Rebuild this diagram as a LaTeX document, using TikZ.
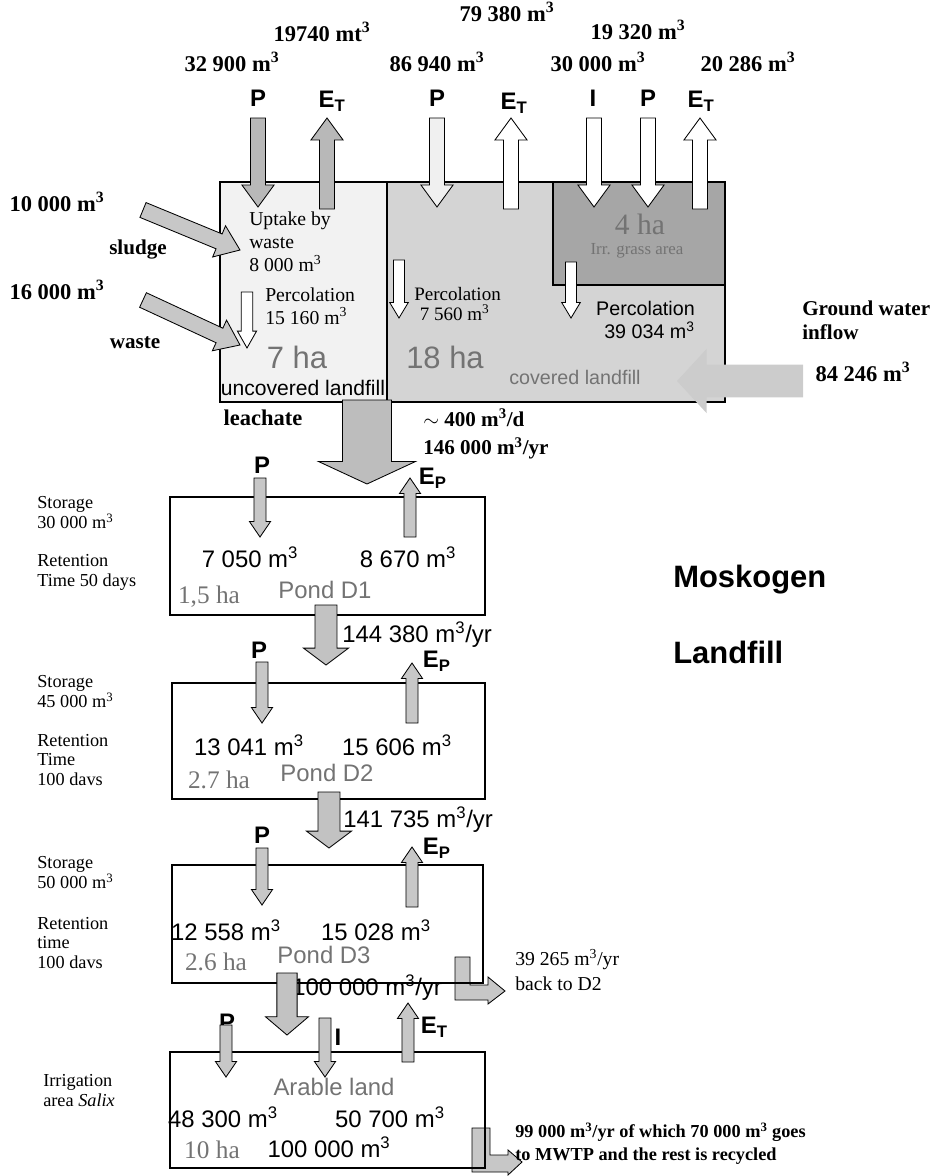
\documentclass[tikz,border=0pt]{standalone}
\usepackage{fontspec}
\setmainfont{Liberation Serif}
\setsansfont{Liberation Sans}
\usetikzlibrary{calc}

% block arrow: [style]{tail}{tip}{half shaft}{half head}{head length} (pt)
\newcommand{\fatarrow}[6][fill=white]{%
  \filldraw[line width=0.6pt,#1]
    let \p1=(#2), \p2=(#3),
        \n1={atan2(\y2-\y1,\x2-\x1)},
        \n2={veclen(\x2-\x1,\y2-\y1)-#6} in
    ($(\p1)+(\n1+90:#4pt)$) -- ($(\p1)+(\n1:\n2)+(\n1+90:#4pt)$)
    -- ($(\p1)+(\n1:\n2)+(\n1+90:#5pt)$) -- (\p2)
    -- ($(\p1)+(\n1:\n2)+(\n1-90:#5pt)$)
    -- ($(\p1)+(\n1:\n2)+(\n1-90:#4pt)$)
    -- ($(\p1)+(\n1-90:#4pt)$) -- cycle;}

\tikzset{
  topnum/.style={font=\bfseries\fontsize{16}{18}\selectfont},
  flux/.style={font=\sffamily\bfseries\fontsize{17}{19}\selectfont},
  qty/.style={font=\sffamily\fontsize{17}{19}\selectfont},
  faint/.style={text=black!55},
  note/.style={font=\fontsize{13}{14.2}\selectfont, align=left, anchor=west, inner sep=0pt},
  small/.style={font=\fontsize{14}{16.5}\selectfont, align=left, anchor=west, inner sep=0pt},
  boxline/.style={line width=1pt}
}

\begin{document}
\begin{tikzpicture}[x=0.025cm, y=-0.025cm]
\useasboundingbox (0,0) rectangle (940,1176);

% landfill areas
\filldraw[boxline, fill=black!5] (220,182) rectangle (387,402);
\filldraw[boxline, fill=black!17] (387,182) rectangle (725,402);
\filldraw[boxline, fill=black!35] (553,182) rectangle (725,285);

% top fluxes
\node[topnum] (q32900) at (232,62) {32 900 m\textsuperscript{3}};
\node[topnum] (q19740) at (322,32) {19740 mt\textsuperscript{3}};
\node[topnum] (q86940) at (437,62) {86 940 m\textsuperscript{3}};
\node[topnum] (q79380) at (507,12) {79 380 m\textsuperscript{3}};
\node[topnum] (q19320) at (638,30) {19 320 m\textsuperscript{3}};
\node[topnum] (q30000) at (598,62) {30 000 m\textsuperscript{3}};
\node[topnum] (q20286) at (748,62) {20 286 m\textsuperscript{3}};

\node[flux] (lPa) at (258,98) {P};
\node[flux] (lEa) at (332,101) {E\textsubscript{T}};
\node[flux] (lPb) at (437,98) {P};
\node[flux] (lEb) at (514,103) {E\textsubscript{T}};
\node[flux] (lIc) at (593,98) {I};
\node[flux] (lPc) at (648,98) {P};
\node[flux] (lEc) at (701,101) {E\textsubscript{T}};

\coordinate (Pa0) at (258,118); \coordinate (Pa1) at (258,207);
\coordinate (Ea0) at (327,209); \coordinate (Ea1) at (327,118);
\coordinate (Pb0) at (437,118); \coordinate (Pb1) at (437,207);
\coordinate (Eb0) at (511,209); \coordinate (Eb1) at (511,118);
\coordinate (Ic0) at (594,118); \coordinate (Ic1) at (594,207);
\coordinate (Pc0) at (648,118); \coordinate (Pc1) at (648,207);
\coordinate (Ec0) at (700,209); \coordinate (Ec1) at (700,118);
\fatarrow[fill=black!28]{Pa0}{Pa1}{5.3}{11.4}{15.6}
\fatarrow[fill=black!28]{Ea0}{Ea1}{5.3}{11.4}{15.6}
\fatarrow[fill=black!6]{Pb0}{Pb1}{5.3}{11.4}{15.6}
\fatarrow{Eb0}{Eb1}{5.3}{11.4}{15.6}
\fatarrow{Ic0}{Ic1}{5.3}{11.4}{15.6}
\fatarrow{Pc0}{Pc1}{5.3}{11.4}{15.6}
\fatarrow{Ec0}{Ec1}{5.3}{11.4}{15.6}

% sludge and waste inputs
\node[topnum] (q10000) at (57,202) {10 000 m\textsuperscript{3}};
\node[topnum] (q16000) at (57,290) {16 000 m\textsuperscript{3}};
\node[font=\bfseries\fontsize{15}{17}\selectfont] (sludge) at (138,250) {sludge};
\node[font=\bfseries\fontsize{15}{17}\selectfont] (waste) at (135,343) {waste};
\coordinate (sl0) at (143,210); \coordinate (sl1) at (240,250);
\coordinate (wa0) at (143,300); \coordinate (wa1) at (240,345);
\fatarrow[fill=black!22]{sl0}{sl1}{5.7}{12}{16}
\fatarrow[fill=black!22]{wa0}{wa1}{5.7}{12}{16}

% uncovered landfill
\node[small] (uptake) at (249,242) {Uptake by\\waste\\8 000 m\textsuperscript{3}};
\node[small] (percA) at (265,306) {Percolation\\15 160 m\textsuperscript{3}};
\coordinate (pa0) at (247,292); \coordinate (pa1) at (247,348);
\fatarrow{pa0}{pa1}{4.1}{6.8}{12}
\node[qty, faint, font=\sffamily\fontsize{22}{24}\selectfont] (ha7) at (297,357) {7 ha};
\node[font=\sffamily\fontsize{15}{17}\selectfont] (uncov) at (303,388) {uncovered landfill};

% covered landfill
\coordinate (pb0) at (399,260); \coordinate (pb1) at (399,318);
\fatarrow{pb0}{pb1}{3.9}{6.6}{11}
\node[small, font=\fontsize{13.5}{14.5}\selectfont] (percB) at (414,304) {Percolation\\\hspace*{4pt}7 560 m\textsuperscript{3}};
\node[faint, font=\sffamily\fontsize{22}{24}\selectfont] (ha18) at (445,357) {18 ha};
\node[faint, font=\fontsize{21}{23}\selectfont] (ha4) at (640,224) {4 ha};
\node[faint, font=\fontsize{12}{14}\selectfont] (grass) at (637,251) {Irr. grass area};
\coordinate (pc0) at (571,262); \coordinate (pc1) at (571,318);
\fatarrow{pc0}{pc1}{3.9}{6.6}{11}
\node[font=\sffamily\fontsize{14}{16.5}\selectfont, align=right, anchor=east, inner sep=0pt] (percC) at (695,320) {Percolation\\39 034 m\textsuperscript{3}};
\node[faint, font=\sffamily\fontsize{14}{16}\selectfont] (cov) at (575,377) {covered landfill};

% ground water
\coordinate (gw0) at (803,381); \coordinate (gw1) at (677,381);
\fatarrow[fill=black!20, draw=none]{gw0}{gw1}{11.7}{22.8}{21}
\node[font=\bfseries\fontsize{15}{17}\selectfont, align=left, anchor=west, inner sep=0pt] (gwtxt) at (802,320) {Ground water\\inflow};
\node[topnum] (q84246) at (863,372) {84 246 m\textsuperscript{3}};

% leachate
\node[font=\bfseries\fontsize{16}{18}\selectfont] (leach) at (263,418) {leachate};
\node[font=\bfseries\fontsize{15}{20}\selectfont, align=left, anchor=west, inner sep=0pt] (leachq) at (423,434) {$\sim$ 400 m\textsuperscript{3}/d\\146 000 m\textsuperscript{3}/yr};
\coordinate (le0) at (367,400); \coordinate (le1) at (367,484);
\fatarrow[fill=black!26]{le0}{le1}{17.4}{34.5}{16}

% pond D1
\draw[boxline] (170,497) rectangle (485,615);
\node[flux] (lPd1) at (262,465) {P};
\node[flux, anchor=west] (lEd1) at (414,478) {E\textsubscript{P}};
\coordinate (Pd10) at (260,478); \coordinate (Pd11) at (260,537);
\coordinate (Ed10) at (410,537); \coordinate (Ed11) at (410,478);
\fatarrow[fill=black!22]{Pd10}{Pd11}{4.3}{7.5}{11}
\fatarrow[fill=black!22]{Ed10}{Ed11}{4.3}{7.5}{11}
\node[qty] (d1p) at (250,557) {7 050 m\textsuperscript{3}};
\node[qty] (d1e) at (408,557) {8 670 m\textsuperscript{3}};
\node[faint, font=\fontsize{18}{20}\selectfont] (d1ha) at (209,597) {1,5 ha};
\node[qty, faint] (d1name) at (325,590) {Pond D1};
\node[note] (d1st) at (37,513) {Storage\\30 000 m\textsuperscript{3}};
\node[note] (d1rt) at (37,572) {Retention\\Time 50 days};
\coordinate (o1a) at (326,605); \coordinate (o1b) at (326,665);
\fatarrow[fill=black!24]{o1a}{o1b}{7.8}{16}{12}
\node[qty, anchor=west, inner sep=0pt] (o1q) at (342,635) {144 380 m\textsuperscript{3}/yr};

% pond D2
\draw[boxline] (172,683) rectangle (485,799);
\node[flux] (lPd2) at (259,650) {P};
\node[flux, anchor=west] (lEd2) at (418,661) {E\textsubscript{P}};
\coordinate (Pd20) at (262,662); \coordinate (Pd21) at (262,723);
\coordinate (Ed20) at (412,723); \coordinate (Ed21) at (412,663);
\fatarrow[fill=black!22]{Pd20}{Pd21}{4.3}{7.5}{11}
\fatarrow[fill=black!22]{Ed20}{Ed21}{4.3}{7.5}{11}
\node[qty] (d2p) at (249,745) {13 041 m\textsuperscript{3}};
\node[qty] (d2e) at (397,745) {15 606 m\textsuperscript{3}};
\node[faint, font=\fontsize{18}{20}\selectfont] (d2ha) at (219,780) {2.7 ha};
\node[qty, faint] (d2name) at (327,773) {Pond D2};
\node[note] (d2st) at (37,692) {Storage\\45 000 m\textsuperscript{3}};
\node[note] (d2rt) at (37,760) {Retention\\Time\\100 davs};
\coordinate (o2a) at (329,792); \coordinate (o2b) at (329,848);
\fatarrow[fill=black!24]{o2a}{o2b}{7.8}{16}{12}
\node[qty, anchor=west, inner sep=0pt] (o2q) at (343,820) {141 735 m\textsuperscript{3}/yr};

% pond D3
\coordinate (bk0) at (455,957);
\filldraw[fill=black!22, line width=0.6pt] (bk0) -- (470,957) -- (470,985) -- (488,985)
  -- (488,977) -- (505,991) -- (488,1004) -- (488,1000) -- (455,1000) -- cycle;
\draw[boxline] (172,865) rectangle (483,983);
\node[flux] (lPd3) at (262,835) {P};
\node[flux, anchor=west] (lEd3) at (418,848) {E\textsubscript{P}};
\coordinate (Pd30) at (262,848); \coordinate (Pd31) at (262,905);
\coordinate (Ed30) at (412,907); \coordinate (Ed31) at (412,847);
\fatarrow[fill=black!22]{Pd30}{Pd31}{4.3}{7.5}{11}
\fatarrow[fill=black!22]{Ed30}{Ed31}{4.3}{7.5}{11}
\node[qty] (d3p) at (226,930) {12 558 m\textsuperscript{3}};
\node[qty] (d3e) at (376,930) {15 028 m\textsuperscript{3}};
\node[faint, font=\fontsize{18}{20}\selectfont] (d3ha) at (216,962) {2.6 ha};
\node[qty, faint] (d3name) at (324,955) {Pond D3};
\node[note] (d3st) at (37,873) {Storage\\50 000 m\textsuperscript{3}};
\node[note] (d3rt) at (37,943) {Retention\\time\\100 davs};
\node[font=\fontsize{14}{17.5}\selectfont, align=left, anchor=west, inner sep=0pt] (backq) at (515,970) {39 265 m\textsuperscript{3}/yr\\back to D2};
\node[qty, anchor=west, inner sep=0pt] (o3q) at (292,988) {100 000 m\textsuperscript{3}/yr};
\coordinate (o3a) at (287,973); \coordinate (o3b) at (287,1035);
\fatarrow[fill=black!24]{o3a}{o3b}{7.2}{15.3}{13}

% arable land
\coordinate (mw0) at (472,1128);
\filldraw[fill=black!22, line width=0.6pt] (mw0) -- (490,1128) -- (490,1155) -- (508,1155)
  -- (508,1150) -- (522,1162) -- (508,1175) -- (508,1172) -- (472,1172) -- cycle;
\draw[boxline] (170,1052) rectangle (485,1168);
\node[flux] (lPar) at (227,1022) {P};
\node[flux] (lIar) at (338,1037) {I};
\node[flux, anchor=west] (lEar) at (416,1027) {E\textsubscript{T}};
\coordinate (Par0) at (226,1025); \coordinate (Par1) at (226,1077);
\coordinate (Iar0) at (325,1018); \coordinate (Iar1) at (325,1077);
\coordinate (Ear0) at (408,1062); \coordinate (Ear1) at (408,1003);
\fatarrow[fill=black!22]{Par0}{Par1}{4.3}{7.5}{11}
\fatarrow[fill=black!22]{Iar0}{Iar1}{4.3}{7.5}{11}
\fatarrow[fill=black!22]{Ear0}{Ear1}{4.3}{7.5}{11}
\node[qty, faint] (arname) at (334,1087) {Arable land};
\node[qty] (arp) at (223,1117) {48 300 m\textsuperscript{3}};
\node[qty] (are) at (390,1117) {50 700 m\textsuperscript{3}};
\node[faint, font=\fontsize{18}{20}\selectfont] (arha) at (212,1150) {10 ha};
\node[qty] (artot) at (329,1147) {100 000 m\textsuperscript{3}};
\node[note] (arirr) at (43,1091) {Irrigation\\area \textit{Salix}};
\node[font=\bfseries\fontsize{13}{16.5}\selectfont, align=left, anchor=west, inner sep=0pt] (mwtp) at (515,1144) {99 000 m\textsuperscript{3}/yr of which 70 000 m\textsuperscript{3} goes\\to MWTP and the rest is recycled};

% title
\node[font=\sffamily\bfseries\fontsize{22}{24}\selectfont, anchor=west, inner sep=0pt] (title1) at (673,580) {Moskogen};
\node[font=\sffamily\bfseries\fontsize{22}{24}\selectfont, anchor=west, inner sep=0pt] (title2) at (673,652) {Landfill};
\end{tikzpicture}
\end{document}
